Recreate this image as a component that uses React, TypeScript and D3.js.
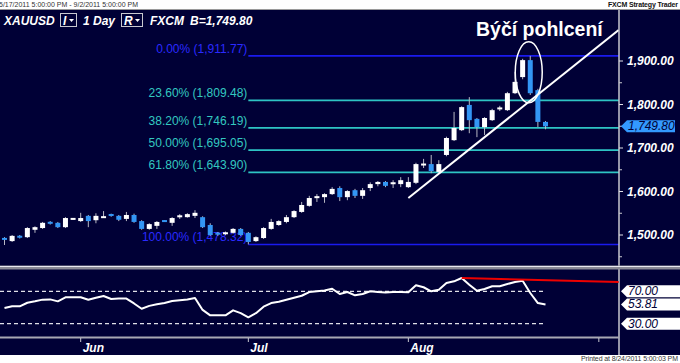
import * as d3 from "d3";
import React, { useEffect, useRef } from "react";

const W = 680;
const H = 363;

// daily candles, 5/17/2011 .. 8/24/2011
const opens = [
  1492, 1486, 1497, 1495, 1512, 1516, 1529, 1528, 1518, 1536, 1532, 1544, 1534, 1540, 1547, 1544, 1537, 1546,
  1532, 1514, 1521, 1533, 1528, 1542, 1541, 1544, 1541, 1523, 1504, 1503, 1505, 1514, 1505, 1486, 1493, 1514,
  1523, 1530, 1541, 1553, 1567, 1586, 1587, 1594, 1608, 1587, 1603, 1590, 1608, 1617, 1622, 1618, 1617, 1610,
  1620, 1661, 1663, 1645, 1684, 1718, 1741, 1799, 1767, 1748, 1764, 1790, 1787, 1826, 1863, 1902, 1833, 1760,
];
const highs = [
  1495, 1500, 1500, 1518, 1520, 1530, 1532, 1530, 1541, 1539, 1551, 1546, 1550, 1555, 1549, 1546, 1553, 1549,
  1534, 1527, 1532, 1534, 1541, 1548, 1550, 1557, 1543, 1527, 1507, 1508, 1516, 1516, 1507, 1497, 1518, 1537,
  1534, 1546, 1557, 1576, 1590, 1594, 1596, 1610, 1612, 1603, 1606, 1608, 1621, 1624, 1624, 1626, 1633, 1633,
  1666, 1675, 1684, 1672, 1726, 1783, 1796, 1817, 1769, 1771, 1790, 1797, 1829, 1875, 1905, 1911.77, 1836, 1762,
];
const lows = [
  1477, 1484, 1492, 1493, 1505, 1514, 1524, 1516, 1516, 1535, 1530, 1518, 1527, 1540, 1542, 1532, 1532, 1528,
  1512, 1512, 1514, 1530, 1521, 1537, 1540, 1539, 1516, 1498, 1498, 1500, 1503, 1498, 1478.32, 1484, 1491, 1512,
  1521, 1527, 1539, 1551, 1565, 1576, 1574, 1592, 1578, 1580, 1585, 1583, 1601, 1612, 1610, 1608, 1610, 1608,
  1617, 1654, 1642, 1643, 1681, 1716, 1739, 1734, 1725, 1730, 1762, 1785, 1785, 1824, 1858, 1822, 1748, 1743,
];
const closes = [
  1490, 1498, 1495, 1516, 1518, 1528, 1527, 1518, 1539, 1538, 1539, 1532, 1544, 1542, 1545, 1535, 1546, 1530,
  1514, 1525, 1530, 1531, 1539, 1544, 1548, 1551, 1518, 1500, 1502, 1505, 1514, 1500, 1484, 1495, 1516, 1530,
  1532, 1541, 1555, 1569, 1585, 1588, 1594, 1606, 1587, 1601, 1590, 1603, 1617, 1622, 1613, 1620, 1626, 1622,
  1663, 1663, 1647, 1663, 1723, 1746, 1794, 1764, 1748, 1769, 1787, 1792, 1826, 1852, 1902, 1826, 1760, 1749.8,
];
const rsi = [
  49.4, 51.5, 51.5, 55.9, 57.6, 59.7, 60, 57.6, 62.6, 62.6, 62.6, 59.6, 62, 64.2, 60.5, 61, 61, 55,
  48.5, 52, 54, 55.5, 58, 59, 60, 61.7, 47, 40.3, 40.3, 40.3, 46.5, 43, 37.9, 43, 51, 55.5,
  57, 59.5, 62, 64.5, 69, 70, 71, 73.2, 66.7, 69.1, 65, 66.7, 70, 69.1, 68.5, 69, 69, 68.7,
  77.4, 75, 70, 72, 80.2, 82.3, 86.4, 78.2, 70.7, 72.8, 76.2, 76.2, 79, 81.5, 83.1, 67.9, 55.5, 53.81,
];

const priceTicks = [1500, 1600, 1700, 1800, 1900];
const priceMinorTicks = [1450, 1550, 1650, 1750, 1850];
const monthTickIdx = [10, 32, 53, 78];
const monthLabels = ["Jun", "Jul", "Aug", ""];

const fibRatios = [0, 0.236, 0.382, 0.5, 0.618, 1];
const fibHigh = 1911.77;
const fibLow = 1478.32;
const fibStartIdx = 32;

const trendIdx = [53, 80.6];
const trendPrice = [1585, 1971];

const rsiLevels = [70, 30];
const rsiRedIdx = [60, 80.6];
const rsiRedVal = [86.5, 81.5];

const lastPrice = 1749.8;
const lastRsi = 53.81;
const patternIdx = 68.8;
const patternPrice = 1874;
const patternLabel = "Býčí pohlcení";

const BG = "#000036";
const FONT = "'Liberation Sans', Arial, sans-serif";

const fmt = d3.format(",.2f");

const App: React.FC = () => {
  const ref = useRef<SVGSVGElement>(null);

  useEffect(() => {
    document.body.style.margin = "0";
    if (!ref.current) return;
    const svg = d3.select(ref.current);
    svg.selectAll("*").remove();

    const axisX = 619;
    const x = d3.scaleLinear().domain([0, 71]).range([4.5, 545.5]);
    const y = d3.scaleLinear().domain([1500, 1900]).range([235, 61]);
    const yr = d3.scaleLinear().domain([0, 100]).range([348, 267]);

    const defs = svg.append("defs");
    defs.append("clipPath").attr("id", "mainClip")
      .append("rect").attr("x", 0).attr("y", 11).attr("width", axisX).attr("height", 254);
    defs.append("clipPath").attr("id", "rsiClip")
      .append("rect").attr("x", 0).attr("y", 270).attr("width", axisX + 1).attr("height", 67);

    // backgrounds
    svg.append("rect").attr("width", W).attr("height", H).attr("fill", "#ffffff");
    svg.append("rect").attr("x", 0).attr("y", 10).attr("width", W).attr("height", 345).attr("fill", BG);
    svg.append("line").attr("x1", 0).attr("x2", W).attr("y1", 9.5).attr("y2", 9.5)
      .attr("stroke", "#9a9a9a").attr("stroke-width", 1);

    // top strip texts
    svg.append("text").attr("x", -1).attr("y", 7).attr("font-family", FONT).attr("font-size", 7)
      .attr("fill", "#333").attr("textLength", 139).text("5/17/2011 5:00:00 PM - 9/2/2011 5:00:00 PM");
    svg.append("text").attr("x", 608).attr("y", 7).attr("font-family", FONT).attr("font-size", 7)
      .attr("font-weight", "bold").attr("fill", "#111").attr("textLength", 70).text("FXCM Strategy Trader");

    // header
    const head = svg.append("g").attr("font-family", FONT).attr("font-size", 12)
      .attr("font-weight", "bold").attr("font-style", "italic").attr("fill", "#ffffff");
    head.append("text").attr("x", 4).attr("y", 25).text("XAUUSD");
    head.append("text").attr("x", 83).attr("y", 25).text("1 Day");
    head.append("text").attr("x", 150).attr("y", 25).text("FXCM");
    head.append("text").attr("x", 190).attr("y", 25).text(`B=${fmt(lastPrice)}`);
    const boxes = [
      { x: 60, w: 16, t: "I" },
      { x: 121, w: 21, t: "R" },
    ];
    boxes.forEach((b) => {
      head.append("rect").attr("x", b.x + 0.5).attr("y", 13.5).attr("width", b.w).attr("height", 13)
        .attr("fill", "none").attr("stroke", "#c8c8d0").attr("stroke-width", 1);
      head.append("text").attr("x", b.x + 3).attr("y", 25).text(b.t);
      const tx = b.x + b.w - 7;
      head.append("path").attr("d", `M${tx},19 L${tx + 5},19 L${tx + 2.5},22 Z`).attr("fill", "#ffffff");
    });

    // fibonacci retracement
    const main = svg.append("g").attr("clip-path", "url(#mainClip)");
    const fibX0 = x(fibStartIdx);
    fibRatios.forEach((r) => {
      const p = fibHigh - r * (fibHigh - fibLow);
      const edge = r === 0 || r === 1;
      const col = edge ? "#1a1aee" : "#2ec4c4";
      main.append("line").attr("x1", fibX0).attr("x2", axisX).attr("y1", y(p)).attr("y2", y(p))
        .attr("stroke", col).attr("stroke-width", 1.6);
      main.append("text").attr("x", fibX0 - 1).attr("y", y(p) - 3).attr("text-anchor", "end")
        .attr("font-family", FONT).attr("font-size", 12).attr("fill", edge ? "#2a2aff" : "#33c8c0")
        .text(`${(r * 100).toFixed(2)}% (${fmt(p)})`);
    });

    // candles
    const idx = d3.range(opens.length);
    const cg = main.append("g");
    cg.selectAll("line.wick").data(idx).enter().append("line")
      .attr("x1", (i) => x(i)).attr("x2", (i) => x(i))
      .attr("y1", (i) => y(highs[i])).attr("y2", (i) => y(lows[i]))
      .attr("stroke", "#b8b8c4").attr("stroke-width", 1);
    cg.selectAll("rect.body").data(idx).enter().append("rect")
      .attr("x", (i) => x(i) - 2.5).attr("width", 5)
      .attr("y", (i) => {
        const top = y(Math.max(opens[i], closes[i]));
        const h = Math.abs(y(opens[i]) - y(closes[i]));
        return h < 2 ? top - (2 - h) / 2 : top;
      })
      .attr("height", (i) => Math.max(2, Math.abs(y(opens[i]) - y(closes[i]))))
      .attr("fill", (i) => (closes[i] >= opens[i] ? "#ffffff" : "#3396f5"));

    // trend line and pattern mark
    main.append("line")
      .attr("x1", x(trendIdx[0])).attr("y1", y(trendPrice[0]))
      .attr("x2", x(trendIdx[1])).attr("y2", y(trendPrice[1]))
      .attr("stroke", "#ffffff").attr("stroke-width", 2);
    main.append("ellipse").attr("cx", x(patternIdx)).attr("cy", y(patternPrice))
      .attr("rx", 13.5).attr("ry", 30.5).attr("fill", "none")
      .attr("stroke", "#ffffff").attr("stroke-width", 1.5);
    svg.append("text").attr("x", 476).attr("y", 36).attr("font-family", FONT)
      .attr("font-size", 19.5).attr("font-weight", "bold").attr("fill", "#ffffff").text(patternLabel);

    // right axis
    svg.append("line").attr("x1", axisX).attr("x2", axisX).attr("y1", 10).attr("y2", 355)
      .attr("stroke", "#c8c8d0").attr("stroke-width", 1.5);
    priceMinorTicks.forEach((p) => {
      svg.append("line").attr("x1", axisX).attr("x2", axisX + 3).attr("y1", y(p)).attr("y2", y(p))
        .attr("stroke", "#c8c8d0");
    });
    priceTicks.forEach((p) => {
      svg.append("line").attr("x1", axisX).attr("x2", axisX + 4).attr("y1", y(p)).attr("y2", y(p))
        .attr("stroke", "#e0e0e8");
      svg.append("text").attr("x", 627).attr("y", y(p) + 4).attr("font-family", FONT)
        .attr("font-size", 12).attr("font-weight", "bold").attr("font-style", "italic")
        .attr("fill", "#ffffff").text(fmt(p));
    });

    const tag = (cy: number, right: number, fill: string, textFill: string, label: string) => {
      svg.append("path")
        .attr("d", `M${axisX + 2},${cy} L${axisX + 8},${cy - 6} L${right},${cy - 6} L${right},${cy + 6} L${axisX + 8},${cy + 6} Z`)
        .attr("fill", fill);
      svg.append("text").attr("x", 628).attr("y", cy + 4).attr("font-family", FONT)
        .attr("font-size", 12).attr("font-style", "italic").attr("fill", textFill).text(label);
    };
    tag(y(lastPrice), 675, "#3399ff", "#000036", fmt(lastPrice));

    // separator
    svg.append("rect").attr("x", 0).attr("y", 265.5).attr("width", W).attr("height", 4).attr("fill", "#8a8a96");
    svg.append("line").attr("x1", 0).attr("x2", W).attr("y1", 266.5).attr("y2", 266.5)
      .attr("stroke", "#e8e8f0").attr("stroke-width", 1);

    // RSI panel
    const rg = svg.append("g").attr("clip-path", "url(#rsiClip)");
    rsiLevels.forEach((v) => {
      rg.append("line").attr("x1", 0).attr("x2", x(71)).attr("y1", yr(v)).attr("y2", yr(v))
        .attr("stroke", "#e0e0e8").attr("stroke-width", 1.2).attr("stroke-dasharray", "4,3");
    });
    const rsiLine = d3.line<number>().x((_, i) => x(i)).y((d) => yr(d));
    rg.append("path").attr("d", rsiLine(rsi)).attr("fill", "none")
      .attr("stroke", "#ffffff").attr("stroke-width", 2).attr("stroke-linejoin", "round");
    rg.append("line")
      .attr("x1", x(rsiRedIdx[0])).attr("y1", yr(rsiRedVal[0]))
      .attr("x2", x(rsiRedIdx[1])).attr("y2", yr(rsiRedVal[1]))
      .attr("stroke", "#ee0000").attr("stroke-width", 2);

    tag(yr(70), 680, "#ffffff", "#000036", "70.00");
    tag(yr(lastRsi), 680, "#ffffff", "#000036", lastRsi.toFixed(2));
    tag(yr(30), 680, "#ffffff", "#000036", "30.00");

    // bottom time axis
    svg.append("line").attr("x1", 0).attr("x2", axisX).attr("y1", 337.5).attr("y2", 337.5)
      .attr("stroke", "#a8a8b4").attr("stroke-width", 2);
    monthTickIdx.forEach((ti, k) => {
      svg.append("line").attr("x1", x(ti)).attr("x2", x(ti)).attr("y1", 338).attr("y2", 342)
        .attr("stroke", "#c8c8d0");
      if (monthLabels[k])
        svg.append("text").attr("x", x(ti) + 2).attr("y", 352).attr("font-family", FONT)
          .attr("font-size", 12).attr("font-weight", "bold").attr("font-style", "italic")
          .attr("fill", "#ffffff").text(monthLabels[k]);
    });

    svg.append("text").attr("x", 581).attr("y", 361).attr("font-family", FONT).attr("font-size", 7)
      .attr("fill", "#333").attr("textLength", 97).text("Printed at 8/24/2011 5:00:03 PM");
  }, []);

  return <svg ref={ref} width={W} height={H} style={{ display: "block" }}></svg>;
};

export default App;
